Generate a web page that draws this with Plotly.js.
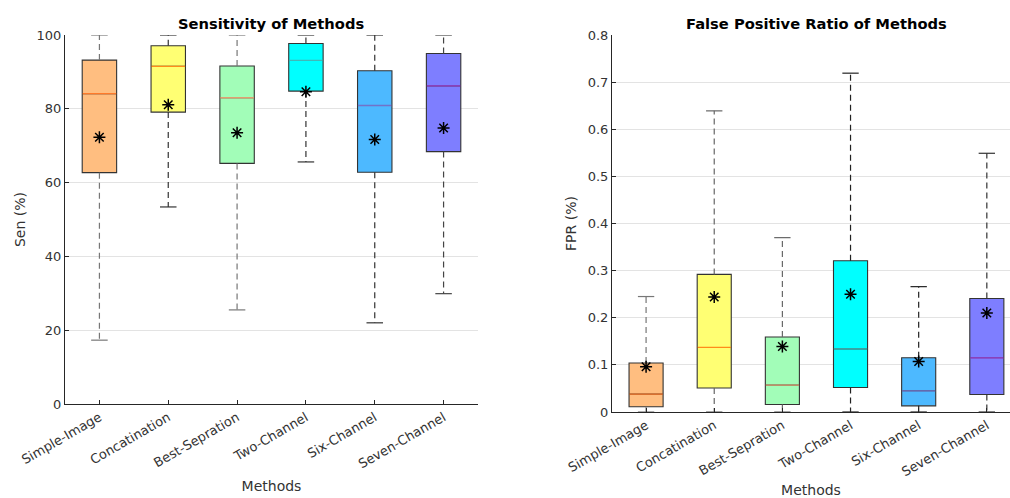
<!DOCTYPE html>
<html>
<head>
<meta charset="utf-8">
<script src="https://cdn.plot.ly/plotly-3.0.1.min.js"></script>
<style>html,body{margin:0;padding:0;overflow:hidden;background:#fff}#chart{width:1010px;height:498px}</style>
</head>
<body>
<div id="chart"></div>
<script>
// ---- data ----
const methods = ["Simple-Image", "Concatination", "Best-Sepration", "Two-Channel", "Six-Channel", "Seven-Channel"];

// Sensitivity (%)
const senLower  = [17.3, 53.4, 25.5, 65.6, 22.0, 29.9];
const senQ1     = [62.7, 79.1, 65.2, 84.8, 62.8, 68.4];
const senMedian = [84.1, 91.5, 83.0, 93.1, 80.9, 86.2];
const senQ3     = [93.2, 97.1, 91.6, 97.7, 90.3, 95.0];
const senUpper  = [100, 100, 100, 100, 100, 100];
const senMean   = [72.3, 81.1, 73.5, 84.6, 71.7, 74.8];

// False positive ratio
const fprLower  = [0, 0, 0, 0, 0, 0];
const fprQ1     = [0.011, 0.051, 0.016, 0.052, 0.013, 0.037];
const fprMedian = [0.038, 0.137, 0.057, 0.134, 0.045, 0.115];
const fprQ3     = [0.104, 0.292, 0.159, 0.321, 0.115, 0.241];
const fprUpper  = [0.245, 0.639, 0.370, 0.719, 0.266, 0.549];
const fprMean   = [0.096, 0.244, 0.139, 0.250, 0.107, 0.210];

const senTicks = [0, 20, 40, 60, 80, 100];
const fprTicks = [0, 0.1, 0.2, 0.3, 0.4, 0.5, 0.6, 0.7, 0.8];

// ---- styles ----
const fills   = ["#FFBE80", "#FFFF73", "#A2FDB8", "#00FFFF", "#4DB9FF", "#7E7EFF"];
const medCols = ["#FF7A2A", "#FF8C1A", "#E0A070", "#40B8B8", "#7272C8", "#A040D8"];
const senWhisk = ["#777777", "#333333", "#777777", "#333333", "#333333", "#444444"];
const fprWhisk = ["#777777", "#666666", "#666666", "#222222", "#222222", "#333333"];
const FONT = "DejaVu Sans, sans-serif";

const idx = methods.map((_, i) => i);
const traces = [];

function addPanel(xa, ya, lower, q1, med, q3, upper, mean, whiskCols) {
  idx.forEach(i => {
    // whiskers (dashed)
    traces.push({
      type: "scatter", mode: "lines", xaxis: xa, yaxis: ya,
      x: [i, i, null, i, i], y: [q3[i], upper[i], null, q1[i], lower[i]],
      line: {color: whiskCols[i], width: 1.2, dash: "6px,4px"}, hoverinfo: "skip"
    });
    // caps
    traces.push({
      type: "scatter", mode: "lines", xaxis: xa, yaxis: ya,
      x: [i - 0.12, i + 0.12, null, i - 0.12, i + 0.12],
      y: [upper[i], upper[i], null, lower[i], lower[i]],
      line: {color: whiskCols[i], width: 1.2}, hoverinfo: "skip"
    });
    // box
    traces.push({
      type: "box", xaxis: xa, yaxis: ya, x: [i],
      q1: [q1[i]], median: [med[i]], q3: [q3[i]],
      lowerfence: [q1[i]], upperfence: [q3[i]],
      width: 0.5, fillcolor: fills[i], whiskerwidth: 0,
      line: {color: "#333333", width: 1.1}, hoverinfo: "skip"
    });
    // median
    traces.push({
      type: "scatter", mode: "lines", xaxis: xa, yaxis: ya,
      x: [i - 0.245, i + 0.245], y: [med[i], med[i]],
      line: {color: medCols[i], width: 1.3}, hoverinfo: "skip"
    });
  });
  // means
  traces.push({
    type: "scatter", mode: "markers", xaxis: xa, yaxis: ya,
    x: idx, y: mean,
    marker: {symbol: "asterisk-open", size: 10, color: "#000", line: {color: "#000", width: 1.5}},
    hoverinfo: "skip"
  });
}

addPanel("x", "y", senLower, senQ1, senMedian, senQ3, senUpper, senMean, senWhisk);
addPanel("x2", "y2", fprLower, fprQ1, fprMedian, fprQ3, fprUpper, fprMean, fprWhisk);

const axisCommon = {
  showline: true, linecolor: "#262626", linewidth: 1,
  ticks: "inside", ticklen: 4, tickcolor: "#262626",
  tickfont: {family: FONT, size: 13, color: "#333"},
  zeroline: false
};

const layout = {
  width: 1010, height: 498,
  margin: {l: 0, r: 0, t: 0, b: 0},
  paper_bgcolor: "#fff", plot_bgcolor: "#fff",
  showlegend: false, hovermode: false,
  xaxis: Object.assign({}, axisCommon, {
    domain: [65/1010, 478/1010], anchor: "y", range: [-0.5, 5.5],
    tickvals: idx, ticktext: methods, tickangle: -30, showgrid: false,
    title: {text: "Methods", font: {family: FONT, size: 14, color: "#333"}, standoff: 10}
  }),
  yaxis: Object.assign({}, axisCommon, {
    domain: [94/498, 463/498], anchor: "x", range: [0, 100],
    tickvals: senTicks, showgrid: true, gridcolor: "#e3e3e3",
    title: {text: "Sen (%)", font: {family: FONT, size: 14, color: "#333"}, standoff: 7}
  }),
  xaxis2: Object.assign({}, axisCommon, {
    domain: [612/1010, 1], anchor: "y2", range: [-0.5, 5.34],
    tickvals: idx, ticktext: methods, tickangle: -30, showgrid: false,
    title: {text: "Methods", font: {family: FONT, size: 14, color: "#333"}, standoff: 8}
  }),
  yaxis2: Object.assign({}, axisCommon, {
    domain: [86/498, 463/498], anchor: "x2", range: [0, 0.8],
    tickvals: fprTicks, tickformat: ".1~f", showgrid: true, gridcolor: "#e3e3e3",
    title: {text: "FPR (%)", font: {family: FONT, size: 14, color: "#333"}, standoff: 7}
  }),
  annotations: [
    {text: "<b>Sensitivity of Methods</b>", xref: "paper", yref: "paper",
     x: 271/1010, y: (498-23)/498, xanchor: "center", yanchor: "middle", showarrow: false,
     font: {family: FONT, size: 14.7, color: "#000"}},
    {text: "<b>False Positive Ratio of Methods</b>", xref: "paper", yref: "paper",
     x: 816/1010, y: (498-23)/498, xanchor: "center", yanchor: "middle", showarrow: false,
     font: {family: FONT, size: 14.7, color: "#000"}}
  ]
};

Plotly.newPlot("chart", traces, layout, {staticPlot: true, displayModeBar: false});
</script>
</body>
</html>
